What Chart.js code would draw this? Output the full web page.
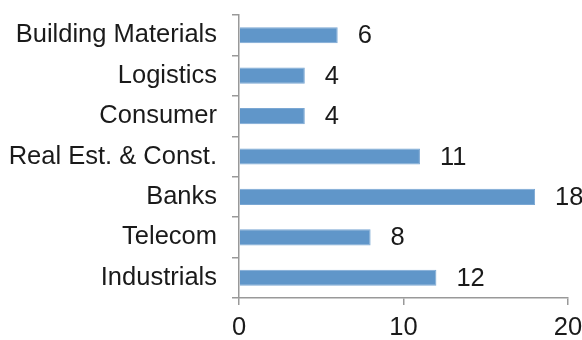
<!DOCTYPE html>
<html>
<head>
<meta charset="utf-8">
<script src="https://cdn.jsdelivr.net/npm/chart.js@4/dist/chart.umd.min.js"></script>
<style>
html, body { margin: 0; padding: 0; background: #fff; }
#wrap { width: 582px; height: 340px; }
</style>
</head>
<body>
<div id="wrap"><canvas id="bar-chart"></canvas></div>
<script>
const categories = ["Building Materials", "Logistics", "Consumer", "Real Est. & Const.", "Banks", "Telecom", "Industrials"];
const values = [6, 4, 4, 11, 18, 8, 12];
const xTicks = [0, 10, 20];

const fontFamily = "'Liberation Sans', Arial, sans-serif";
const fontSize = 25.5;

const valueLabels = {
	id: "valueLabels",
	afterDatasetsDraw(chart) {
		const ctx = chart.ctx;
		const meta = chart.getDatasetMeta(0);
		ctx.save();
		ctx.font = fontSize + "px " + fontFamily;
		ctx.fillStyle = "#1a1a1a";
		ctx.textAlign = "left";
		ctx.textBaseline = "middle";
		meta.data.forEach(function (bar, i) {
			ctx.fillText(values[i], bar.x + 20, bar.y + 1);
		});
		ctx.restore();
	}
};

const getChartElement = document.querySelector("#bar-chart");
var chart = new Chart(getChartElement, {
	type: "bar",
	data: {
		labels: categories,
		datasets: [
			{
				data: values,
				backgroundColor: "#6096c9",
				borderColor: "#7aa7d3",
				borderWidth: 1,
				barPercentage: 0.4,
				categoryPercentage: 1
			}
		]
	},
	options: {
		indexAxis: "y",
		responsive: true,
		maintainAspectRatio: false,
		animation: false,
		layout: { padding: { left: 0, right: 14, top: 15, bottom: 0 } },
		plugins: {
			legend: { display: false },
			tooltip: { enabled: false }
		},
		scales: {
			x: {
				min: 0,
				max: 20,
				afterBuildTicks: function (scale) {
					scale.ticks = xTicks.map(function (v) { return { value: v }; });
				},
				afterFit: function (scale) {
					scale.height = 42;
					scale.paddingLeft = 0;
					scale.paddingRight = 0;
				},
				border: { color: "#999999", width: 1.5 },
				grid: { drawOnChartArea: false, color: "#999999", tickLength: 7, lineWidth: 1.5 },
				ticks: {
					color: "#1a1a1a",
					padding: 8,
					font: { family: fontFamily, size: fontSize }
				}
			},
			y: {
				afterFit: function (scale) {
					scale.width = 239;
					scale.paddingTop = 0;
					scale.paddingBottom = 0;
				},
				border: { color: "#999999", width: 1.5 },
				grid: { drawOnChartArea: false, color: "#999999", tickLength: 7, lineWidth: 1.5, offset: true },
				ticks: {
					color: "#1a1a1a",
					padding: 15,
					font: { family: fontFamily, size: fontSize }
				}
			}
		}
	},
	plugins: [valueLabels]
});
</script>
</body>
</html>
